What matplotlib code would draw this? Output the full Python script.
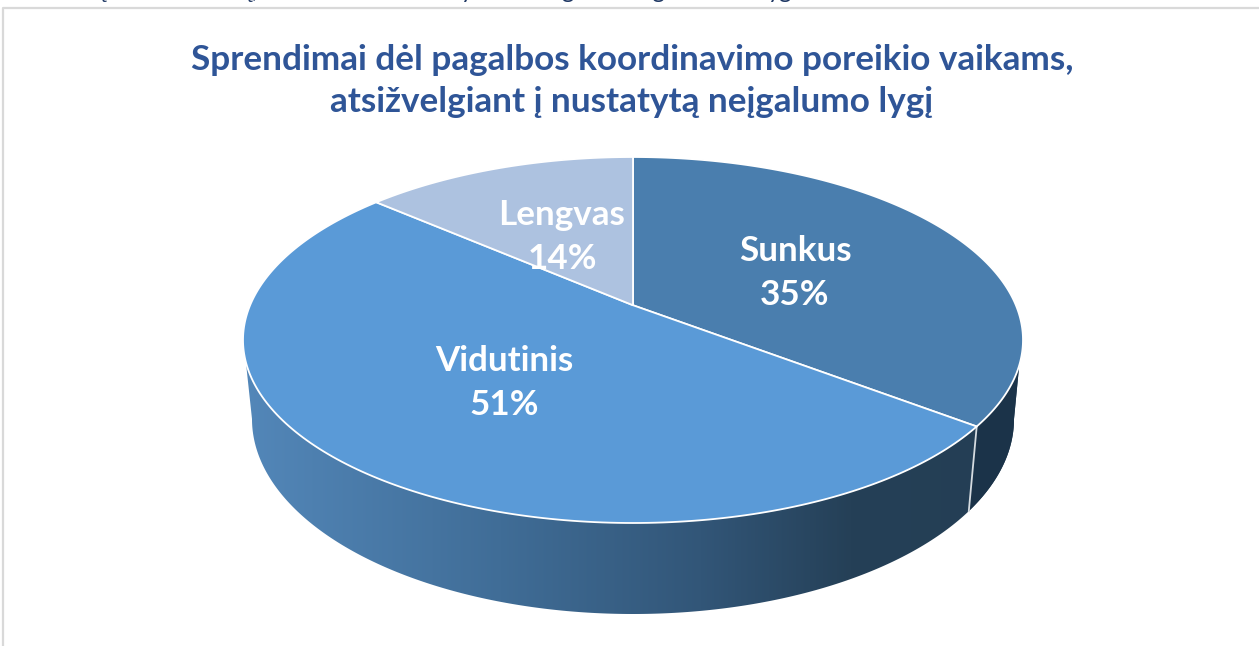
#!/usr/bin/env python3
"""Sprendimai dėl pagalbos koordinavimo - 3D skritulinė diagrama."""

import numpy as np
import matplotlib
matplotlib.use('Agg')
import matplotlib.pyplot as plt
from matplotlib.patches import Polygon

plt.rcParams['font.family'] = ['Lato', 'DejaVu Sans']

# data, clockwise from 12 o'clock (labels are rounded)
labels = ["Sunkus", "Vidutinis", "Lengvas"]
values = [35.4, 51.0, 13.6]
colors = ['#4A7EAE', '#5A9AD7', '#ADC2E0']
title = "Sprendimai dėl pagalbos koordinavimo poreikio vaikams,\natsižvelgiant į nustatytą neįgalumo lygį"

# bits of the text line cut off above the chart
cut_text = ["ų", "ų,", "y", "g", "tg", "yg"]
cut_x = [100, 249, 467, 567, 655, 780]

# label centres in pixels
label_pos = {"Sunkus": (795, 273), "Vidutinis": (504, 383), "Lengvas": (562, 237)}

W, H = 1259, 646
CX = 633
TOP_CY, TOP_RX, TOP_RY = 340, 390, 183
BOT_CY, BOT_RX, BOT_RY = 419, 381, 195
TILT = 0.19  # where the pie centre lands inside the ellipse (perspective)


def circle_to_uv(theta):
    # perspective map of the unit circle, theta clockwise from the top
    x, y = np.sin(theta), np.cos(theta)
    c = 1 / np.sqrt(1 - TILT ** 2)
    s = TILT * c
    w = y * s + c
    return x / w, (y * c + s) / w


def top_xy(u, v):
    return CX + TOP_RX * u, TOP_CY - TOP_RY * v


def bot_xy(u, v):
    return CX + BOT_RX * u, BOT_CY - BOT_RY * v


def ell_arc(xy_fn, phi):
    return np.column_stack(xy_fn(np.cos(phi), np.sin(phi)))


fig = plt.figure(figsize=(W / 100, H / 100), dpi=100)
ax = fig.add_axes([0, 0, 1, 1])
ax.set_xlim(0, W)
ax.set_ylim(H, 0)
ax.axis('off')

# frame of the pasted chart + cut off line of text above it
ax.plot([3.5, 3.5, W], [H, 7.5, 7.5], color='#D9D9D9', lw=1.6, zorder=1)
for txt, x in zip(cut_text, cut_x):
    ax.text(x, -2, txt, color='#1F3864', fontsize=17, ha='center', va='baseline', clip_on=True)

cum = np.cumsum([0] + values) / sum(values) * 2 * np.pi

# side wall
seam_u, seam_v = circle_to_uv(cum[1])
seam_phi = np.arctan2(seam_v, seam_u)
phi_top = np.radians(np.linspace(187, 352, 300))
phi_bot = np.radians(np.linspace(180, 360, 300))
side = np.vstack([ell_arc(top_xy, phi_top), ell_arc(bot_xy, phi_bot[::-1])])
side_patch = Polygon(side, closed=True, fc='none', ec='none', transform=ax.transData)
ax.add_patch(side_patch)

stops_x = [244, 500, 700, 850, 1030]
stops_rgb = np.array([[0x53, 0x87, 0xB9], [0x40, 0x6D, 0x97], [0x32, 0x56, 0x78],
                      [0x25, 0x40, 0x57], [0x24, 0x3E, 0x54]]) / 255
xs = np.arange(240, 1032)
grad = np.stack([np.interp(xs, stops_x, stops_rgb[:, i]) for i in range(3)], axis=-1)[None, :, :]
im = ax.imshow(grad, extent=(240, 1032, 620, 340), aspect='auto', zorder=2)
ax.set_xlim(0, W)
ax.set_ylim(H, 0)
im.set_clip_path(side_patch)

# darker wall of the first slice
phi_right_top = np.linspace(seam_phi, np.radians(-8), 60)
phi_right_bot = np.linspace(seam_phi, 0, 60)
right = np.vstack([ell_arc(top_xy, phi_right_top), ell_arc(bot_xy, phi_right_bot[::-1])])
ax.add_patch(Polygon(right, closed=True, fc='#1B3349', ec='none', zorder=3))
seam = np.array([top_xy(seam_u, seam_v), bot_xy(seam_u, seam_v)])
ax.plot(seam[:, 0], seam[:, 1], color='#D5DBE0', lw=1.3, zorder=4)

# top face
centre = (CX, TOP_CY - TOP_RY * TILT)
for i, name in enumerate(labels):
    th = np.linspace(cum[i], cum[i + 1], 200)
    pts = np.column_stack(top_xy(*circle_to_uv(th)))
    ax.add_patch(Polygon(np.vstack([centre, pts]), closed=True, fc=colors[i],
                         ec='white', lw=1.3, joinstyle='round', zorder=5))

for name, val in zip(labels, values):
    x, y = label_pos[name]
    ax.text(x, y, f"{name}\n{val:.0f}%", color='white', fontsize=25.2, fontweight='bold',
            ha='center', va='center', linespacing=1.44, zorder=6)

ax.text(632, 81, title, color='#2F5597', fontsize=25.3, fontweight='bold',
        ha='center', va='center', linespacing=1.35, zorder=6)

plt.savefig('out.png', dpi=100)
